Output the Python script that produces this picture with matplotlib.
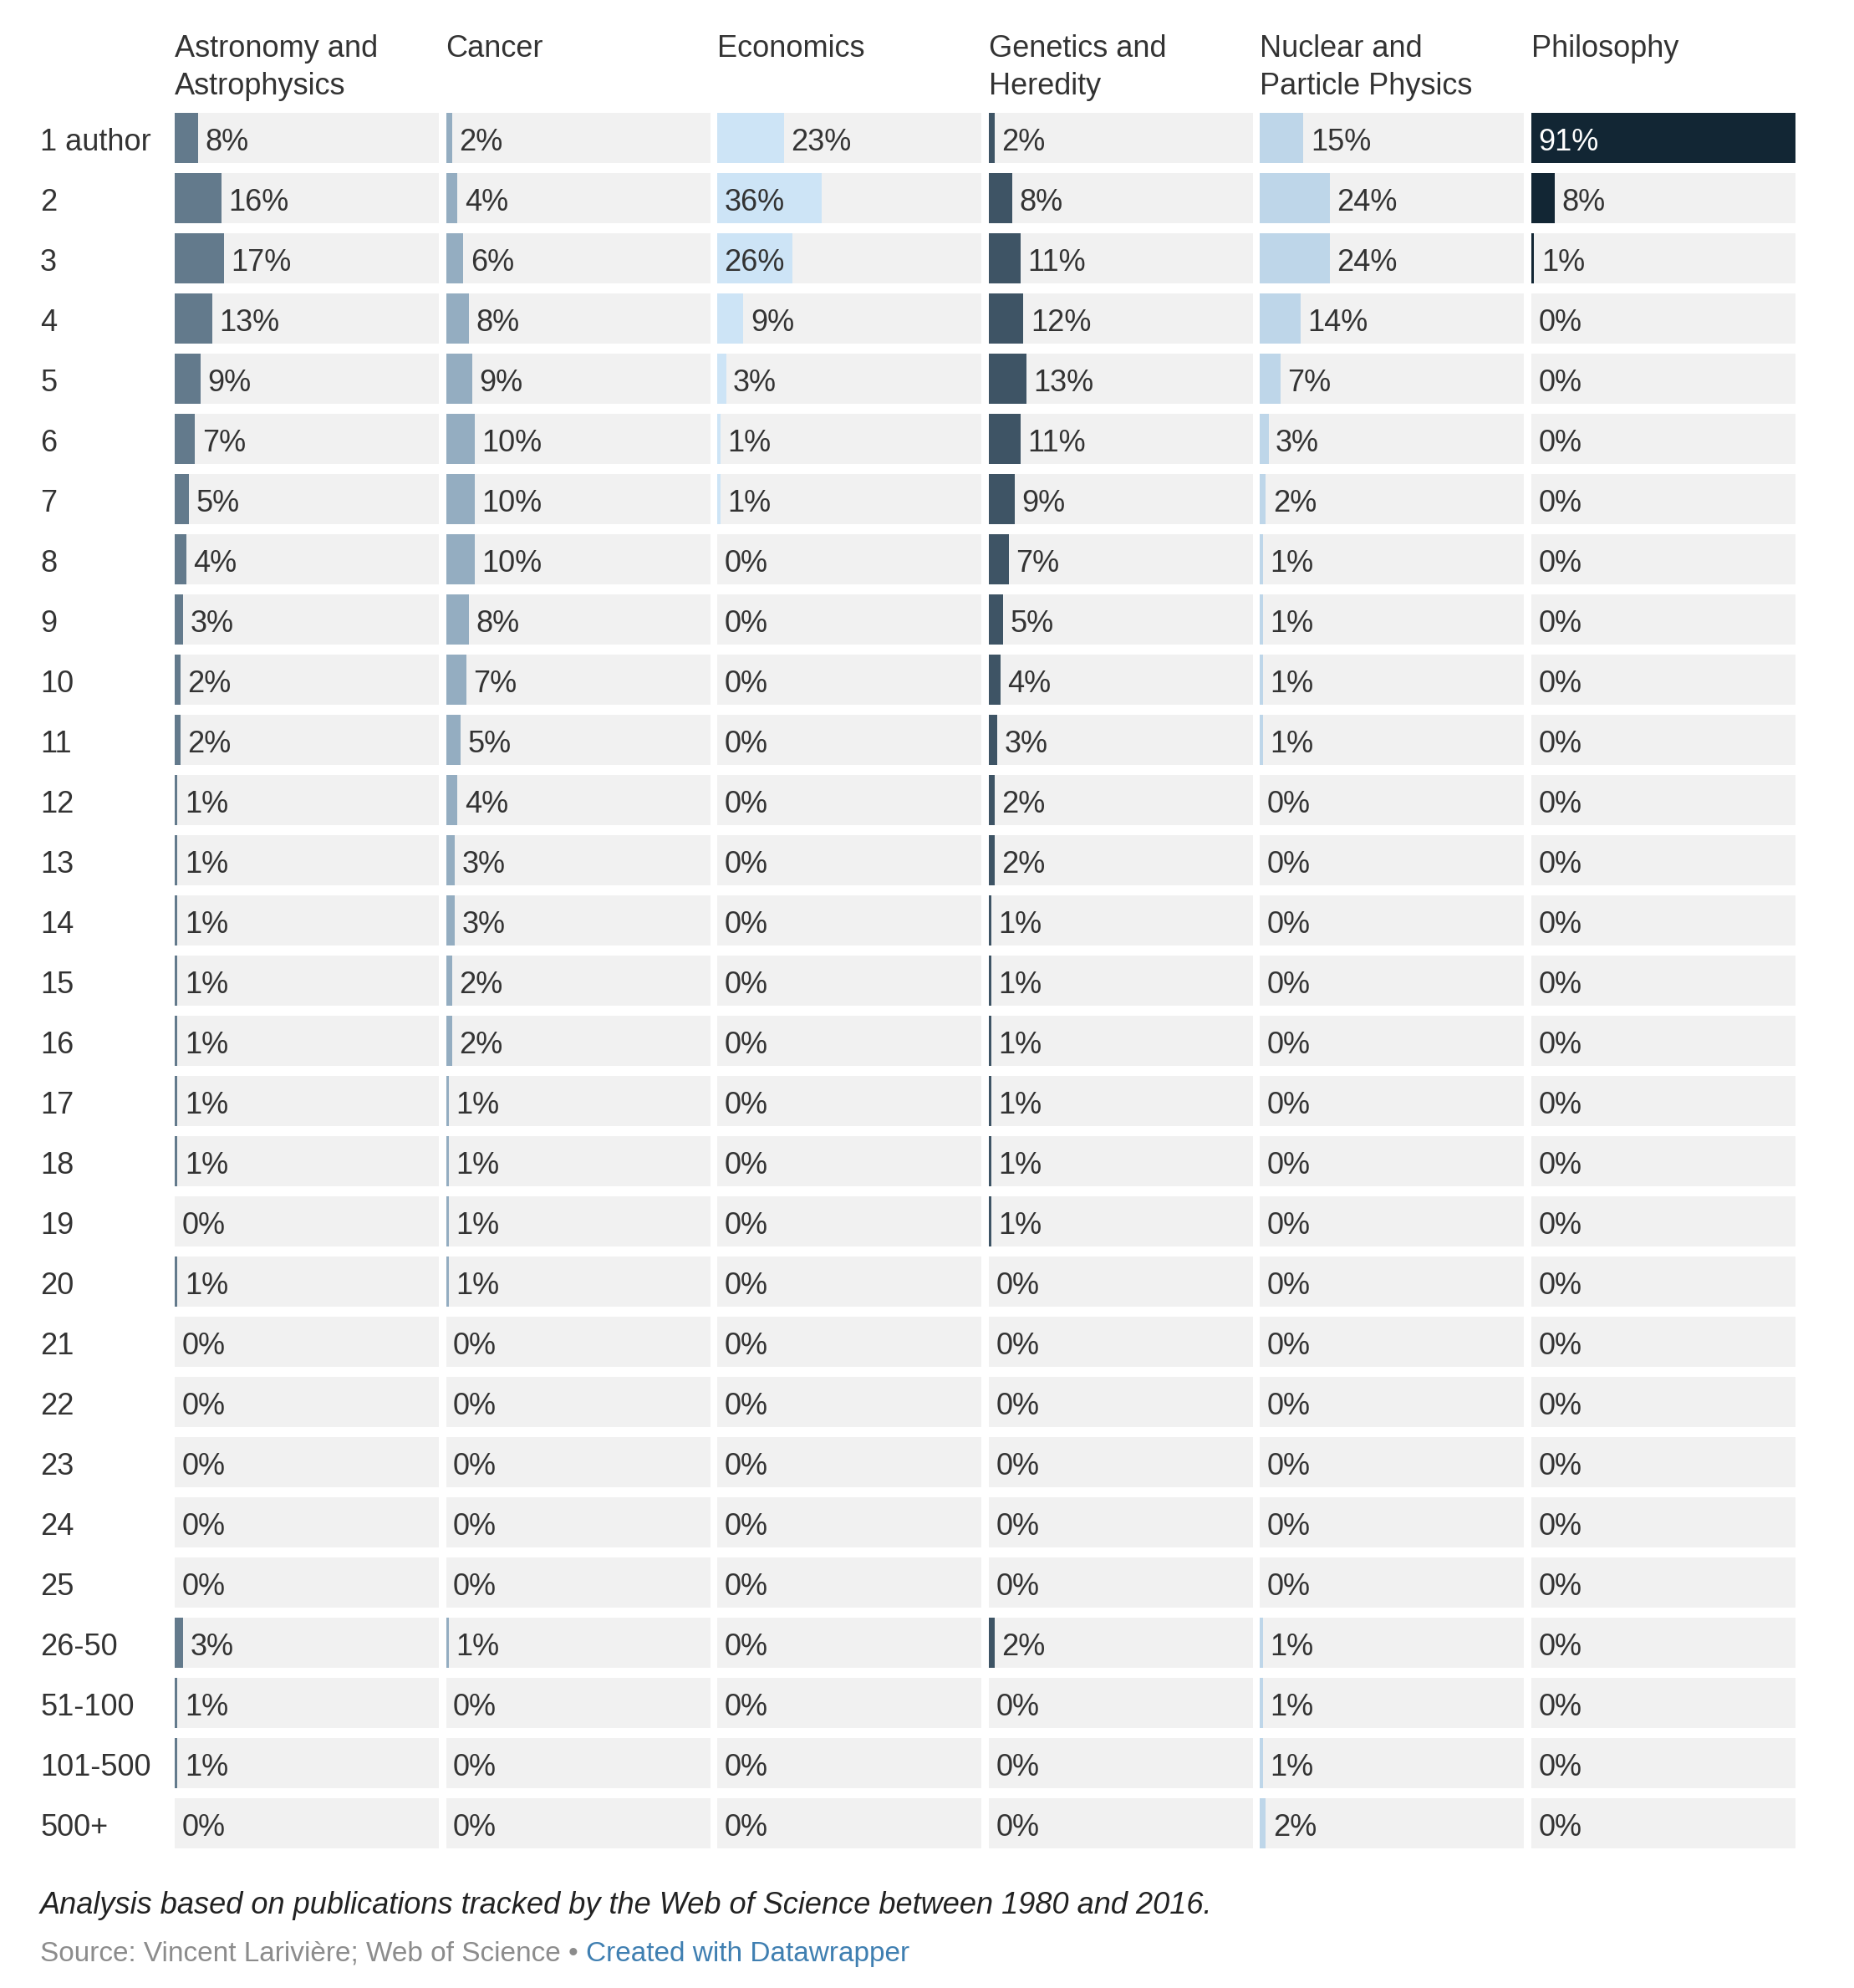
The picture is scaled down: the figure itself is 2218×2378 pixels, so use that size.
import matplotlib
matplotlib.use('Agg')
import matplotlib.pyplot as plt
from matplotlib.colors import to_rgb

plt.rcParams['font.family'] = ['Liberation Sans', 'DejaVu Sans']

# Number of authors per paper (rows)
rows = ['1 author', '2', '3', '4', '5', '6', '7', '8', '9', '10',
        '11', '12', '13', '14', '15', '16', '17', '18', '19', '20',
        '21', '22', '23', '24', '25', '26-50', '51-100', '101-500', '500+']

# Research fields (columns)
fields = ['Astronomy and\nAstrophysics', 'Cancer', 'Economics',
          'Genetics and\nHeredity', 'Nuclear and\nParticle Physics', 'Philosophy']

# Share of papers (%) for each number of authors
astronomy = [8, 16, 17, 13, 9, 7, 5, 4, 3, 2, 2, 1, 1, 1, 1, 1, 1, 1, 0, 1,
             0, 0, 0, 0, 0, 3, 1, 1, 0]
cancer = [2, 4, 6, 8, 9, 10, 10, 10, 8, 7, 5, 4, 3, 3, 2, 2, 1, 1, 1, 1,
          0, 0, 0, 0, 0, 1, 0, 0, 0]
economics = [23, 36, 26, 9, 3, 1, 1, 0, 0, 0, 0, 0, 0, 0, 0, 0, 0, 0, 0, 0,
             0, 0, 0, 0, 0, 0, 0, 0, 0]
genetics = [2, 8, 11, 12, 13, 11, 9, 7, 5, 4, 3, 2, 2, 1, 1, 1, 1, 1, 1, 0,
            0, 0, 0, 0, 0, 2, 0, 0, 0]
nuclear = [15, 24, 24, 14, 7, 3, 2, 1, 1, 1, 1, 0, 0, 0, 0, 0, 0, 0, 0, 0,
           0, 0, 0, 0, 0, 1, 1, 1, 2]
philosophy = [91, 8, 1, 0, 0, 0, 0, 0, 0, 0, 0, 0, 0, 0, 0, 0, 0, 0, 0, 0,
              0, 0, 0, 0, 0, 0, 0, 0, 0]

footnote = 'Analysis based on publications tracked by the Web of Science between 1980 and 2016.'
source = 'Source: Vincent Larivière; Web of Science • '
credit = 'Created with Datawrapper'

series = [astronomy, cancer, economics, genetics, nuclear, philosophy]
colors = ['#637a8c', '#94adc1', '#cde4f6', '#3e5465', '#bed6e9', '#122634']

# Layout (pixels)
W, H = 2218, 2378
col_x0 = 209
col_pitch = 324.6
col_w = 316
top, bottom = 135, 2211
bar_h = 60 / 72.
base_off = 0.21   # text baseline below row centre, in rows
fs = 26

fig = plt.figure(figsize=(W / 100., H / 100.), dpi=100)
fig.patch.set_facecolor('white')

xmax = max(max(s) for s in series)
n = len(rows)
y = list(range(n))

axes = []
for j, (name, vals, c) in enumerate(zip(fields, series, colors)):
    ax = fig.add_axes([(col_x0 + j * col_pitch) / W, 1 - bottom / H,
                       col_w / W, (bottom - top) / H])
    axes.append(ax)
    # grey background cells then the bars
    ax.barh(y, [xmax] * n, height=bar_h, color='#f1f1f1', linewidth=0)
    ax.barh(y, vals, height=bar_h, color=c, linewidth=0)
    ax.set_xlim(0, xmax)
    ax.set_ylim(n - 1 + bar_h / 2, -bar_h / 2)
    ax.axis('off')

    # is the bar dark enough for white text?
    r, g, b = to_rgb(c)
    dark = (0.299 * r + 0.587 * g + 0.114 * b) < 0.5

    for i, v in enumerate(vals):
        inside = v >= 25
        tc = 'white' if (inside and dark) else '#333333'
        ax.annotate('{}%'.format(v), xy=(0 if inside else v, i + base_off),
                    xytext=(6, 0), textcoords='offset points',
                    ha='left', va='baseline', fontsize=fs, color=tc)

    # column header, one text per line
    x0 = ax.get_position().x0
    for k, line in enumerate(name.split('\n')):
        fig.text(x0, 1 - (68 + 45 * k) / H, line, ha='left', va='baseline',
                 fontsize=fs, color='#333333')

# Row labels
for i, r in enumerate(rows):
    axes[0].annotate(r, xy=(48, i + base_off), xycoords=('figure pixels', 'data'),
                     ha='left', va='baseline', fontsize=fs, color='#333333',
                     annotation_clip=False)

# Notes
fig.text(48 / W, 1 - 2289 / H, footnote, ha='left', va='baseline',
         fontsize=fs, style='italic', color='#222222')
t = fig.text(48 / W, 1 - 2346 / H, source, ha='left', va='baseline',
             fontsize=24, color='#8c8c8c')
axes[0].annotate(credit, xy=(1, 0), xycoords=t, ha='left', va='bottom',
                 fontsize=24, color='#3f7fb1', annotation_clip=False)

plt.savefig('out.png', dpi=100, facecolor='white')
